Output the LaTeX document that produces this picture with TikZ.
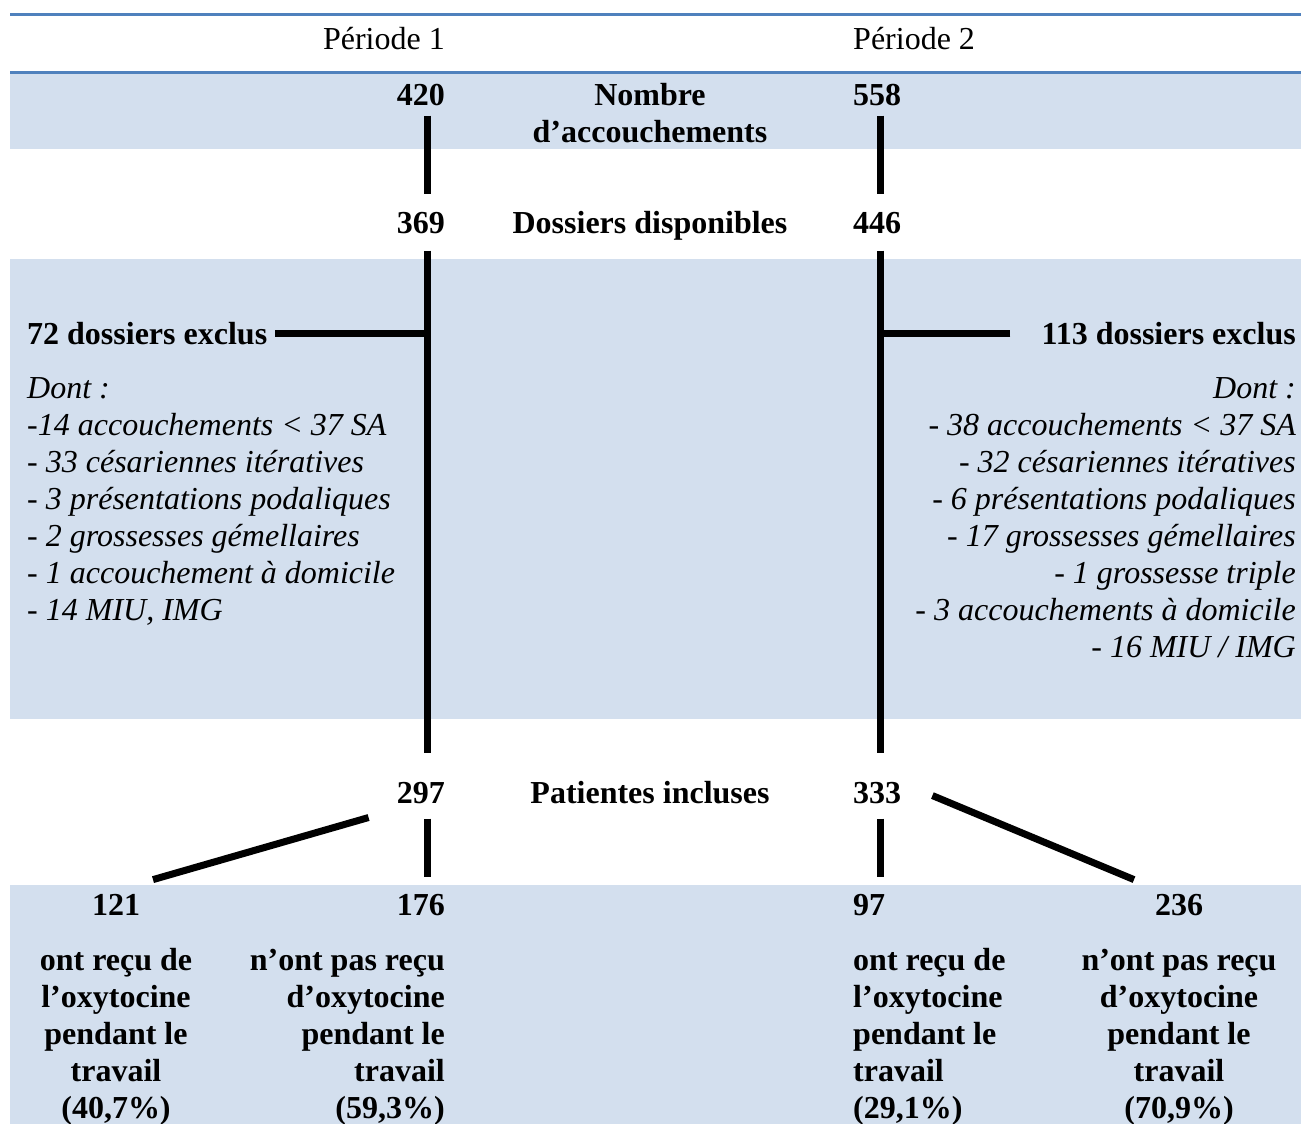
\documentclass[tikz,border=0pt]{standalone}
\usepackage{fontspec}
\setmainfont{Liberation Serif}
\definecolor{bleutrait}{HTML}{4F81BD}
\definecolor{bleufond}{HTML}{D3DFEE}
\tikzset{
  texte/.style={inner sep=0pt,font=\fontsize{32}{37}\selectfont},
  gras/.style={texte,font=\fontsize{32}{37}\selectfont\bfseries},
  liste/.style={texte,font=\fontsize{32}{37}\selectfont\itshape},
  bande/.style={fill=bleufond},
  filet/.style={bleutrait,line width=3pt},
  lien/.style={line width=7pt}
}
\begin{document}
\begin{tikzpicture}[x=1pt,y=-1pt]

\useasboundingbox (0,0) rectangle (1301,1124);

% Bandes
\fill[bande]
(10,73)
rectangle
(1301,149);

\fill[bande]
(10,259)
rectangle
(1301,719);

\fill[bande]
(10,885)
rectangle
(1301,1124);

% Filets
\draw[filet]
(10,15)
--
(1301,15);

\draw[filet]
(10,73)
--
(1301,73);

% Axes
\coordinate (axe1) at (427,0);
\coordinate (axe2) at (880,0);

% Périodes
\node[texte,anchor=base east] (per1)
at (445,49)
{Période 1};

\node[texte,anchor=base west] (per2)
at (853,49)
{Période 2};

% Accouchements (base = dernière ligne)
\node[gras,anchor=base east] (n420)
at (445,105)
{420};

\node[gras,anchor=base,align=center] (accouch)
at (650,142)
{Nombre\\d’accouchements};

\node[gras,anchor=base west] (n558)
at (853,105)
{558};

% Dossiers
\node[gras,anchor=base east] (n369)
at (445,233)
{369};

\node[gras,anchor=base] (dispo)
at (650,233)
{Dossiers disponibles};

\node[gras,anchor=base west] (n446)
at (853,233)
{446};

% Exclusions
\node[gras,anchor=base west] (excl1)
at (27,344)
{72 dossiers exclus};

\node[gras,anchor=base east] (excl2)
at (1296,344)
{113 dossiers exclus};

\node[liste,anchor=base west,align=left] (motif1)
at (27,620)
{Dont :\\
-14 accouchements < 37 SA\\
- 33 césariennes itératives\\
- 3 présentations podaliques\\
- 2 grossesses gémellaires\\
- 1 accouchement à domicile\\
- 14 MIU, IMG};

\node[liste,anchor=base east,align=right] (motif2)
at (1296,657)
{Dont :\\
- 38 accouchements < 37 SA\\
- 32 césariennes itératives\\
- 6 présentations podaliques\\
- 17 grossesses gémellaires\\
- 1 grossesse triple\\
- 3 accouchements à domicile\\
- 16 MIU / IMG};

% Incluses
\node[gras,anchor=base east] (n297)
at (445,803)
{297};

\node[gras,anchor=base] (inclus)
at (650,803)
{Patientes incluses};

\node[gras,anchor=base west] (n333)
at (853,803)
{333};

% Oxytocine
\node[gras,anchor=base] (n121)
at (116,915)
{121};

\node[gras,anchor=base east] (n176)
at (445,915)
{176};

\node[gras,anchor=base west] (n97)
at (853,915)
{97};

\node[gras,anchor=base] (n236)
at (1179,915)
{236};

\node[gras,anchor=base,align=center] (oxy121)
at (116,1118)
{ont reçu de\\l’oxytocine\\pendant le\\travail\\(40,7\%)};

\node[gras,anchor=base east,align=right] (oxy176)
at (445,1118)
{n’ont pas reçu\\d’oxytocine\\pendant le\\travail\\(59,3\%)};

\node[gras,anchor=base west,align=left] (oxy97)
at (853,1118)
{ont reçu de\\l’oxytocine\\pendant le\\travail\\(29,1\%)};

\node[gras,anchor=base,align=center] (oxy236)
at (1179,1118)
{n’ont pas reçu\\d’oxytocine\\pendant le\\travail\\(70,9\%)};

% Liens
\draw[lien,shorten <=10pt,shorten >=18pt]
(n420.south -| axe1)
--
(n369.north -| axe1);

\draw[lien,shorten <=10pt,shorten >=18pt]
(n558.south -| axe2)
--
(n446.north -| axe2);

\draw[lien,shorten <=17pt,shorten >=29pt]
(n369.south -| axe1)
--
(n297.north -| axe1);

\draw[lien,shorten <=17pt,shorten >=29pt]
(n446.south -| axe2)
--
(n333.north -| axe2);

\draw[lien]
([xshift=8pt]excl1.east)
--
(excl1.east -| axe1);

\draw[lien]
([xshift=-31pt]excl2.west)
--
(excl2.west -| axe2);

\draw[lien,shorten <=15pt,shorten >=17pt]
(n297.south -| axe1)
--
(n176.north -| axe1);

\draw[lien,shorten <=15pt,shorten >=17pt]
(n333.south -| axe2)
--
(n97.north -| axe2);

\draw[lien]
([xshift=-28pt,yshift=-14pt]n297.south west)
--
([xshift=37pt,yshift=14pt]n121.north);

\draw[lien]
([xshift=31pt,yshift=-3pt]n333.east)
--
([xshift=-45pt,yshift=14pt]n236.north);

\end{tikzpicture}
\end{document}
